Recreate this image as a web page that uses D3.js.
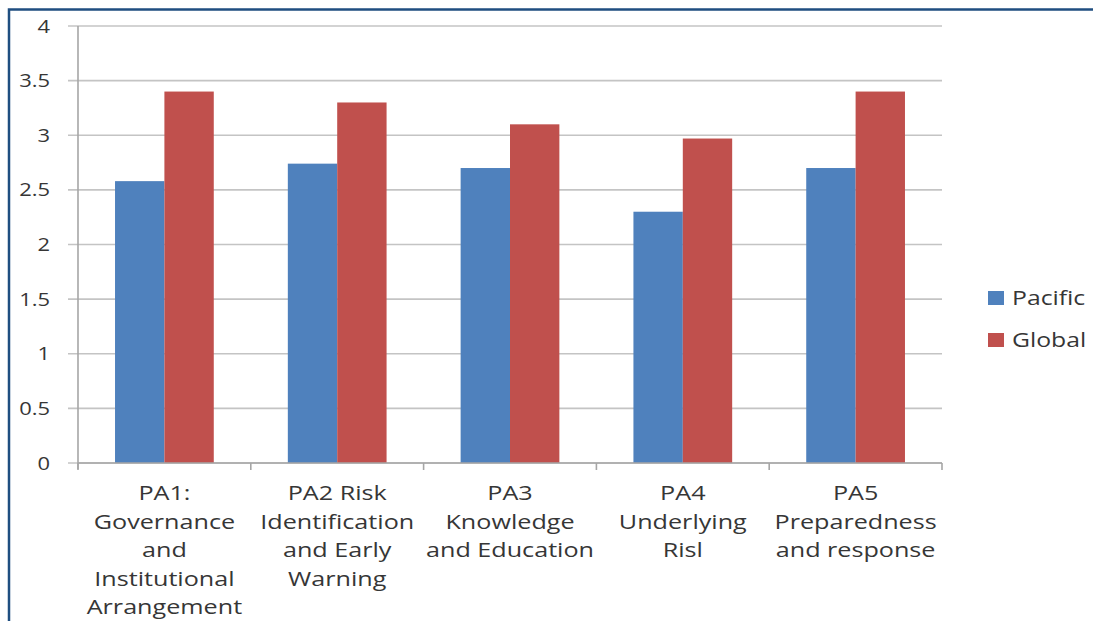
<!DOCTYPE html>
<html>
<head>
<meta charset="utf-8">
<script src="https://cdn.jsdelivr.net/npm/d3@7"></script>
<style>
  html, body { margin: 0; padding: 0; background: #fff; }
  svg { display: block; }
  text { font-family: "Open Sans", sans-serif; fill: #363636; }
</style>
</head>
<body>
<svg id="chart" width="1093" height="621"></svg>
<script>
// Priority-area scores, Pacific vs global average
const categories = [
  ["PA1:", "Governance", "and", "Institutional", "Arrangement"],
  ["PA2 Risk", "Identification", "and Early", "Warning"],
  ["PA3", "Knowledge", "and Education"],
  ["PA4", "Underlying", "Risl"],
  ["PA5", "Preparedness", "and response"]
];
const seriesNames = ["Pacific", "Global"];
const pacific = [2.58, 2.74, 2.70, 2.30, 2.70];
const global = [3.40, 3.30, 3.10, 2.97, 3.40];
const yTicks = [0, 0.5, 1, 1.5, 2, 2.5, 3, 3.5, 4];
const colors = ["#4f81bd", "#c0504d"];

const svg = d3.select("#chart");
const tickStretch = 1.22;   // horizontal text stretch
const catStretch = 1.29;
const legStretch = 1.27;

// frame
svg.append("path")
  .attr("d", "M9,621 V9.5 H1093")
  .attr("fill", "none")
  .attr("stroke", "#1f4e80")
  .attr("stroke-width", 2.5);

const plotLeft = 78, plotRight = 942, plotTop = 26, plotBottom = 463;
const idx = d3.range(categories.length);

const x = d3.scaleBand().domain(idx).range([plotLeft, plotRight]).paddingInner(0).paddingOuter(0);
const barW = x.bandwidth() / 3.5;
const y = d3.scaleLinear().domain([0, 4]).range([plotBottom, plotTop]);

// gridlines + y ticks
svg.append("g").selectAll("line").data(yTicks).join("line")
  .attr("x1", plotLeft - 10).attr("x2", plotRight)
  .attr("y1", d => y(d)).attr("y2", d => y(d))
  .attr("stroke", "#c4c4c4").attr("stroke-width", 1.6);

svg.append("g").selectAll("text").data(yTicks).join("text")
  .attr("transform", d => `translate(50,${y(d) + 6.5}) scale(${tickStretch},1)`)
  .attr("text-anchor", "end")
  .attr("font-size", 18)
  .text(d => d);

// bars
const series = [pacific, global];
series.forEach((vals, s) => {
  svg.append("g").selectAll("rect").data(vals).join("rect")
    .attr("x", (d, i) => x(i) + x.bandwidth() / 2 - barW + s * barW)
    .attr("width", barW)
    .attr("y", d => y(d))
    .attr("height", d => y(0) - y(d))
    .attr("fill", colors[s]);
});

// axis lines
svg.append("line").attr("x1", plotLeft).attr("x2", plotLeft).attr("y1", plotTop).attr("y2", plotBottom + 6)
  .attr("stroke", "#a6a6a6").attr("stroke-width", 1.6);
svg.append("line").attr("x1", plotLeft).attr("x2", plotRight).attr("y1", plotBottom).attr("y2", plotBottom)
  .attr("stroke", "#a6a6a6").attr("stroke-width", 1.6);
svg.append("g").selectAll("line").data(d3.range(categories.length + 1)).join("line")
  .attr("x1", i => plotLeft + i * x.bandwidth()).attr("x2", i => plotLeft + i * x.bandwidth())
  .attr("y1", plotBottom).attr("y2", plotBottom + 7)
  .attr("stroke", "#a6a6a6").attr("stroke-width", 1.6);

// category labels
const catG = svg.append("g").selectAll("g").data(categories).join("g")
  .attr("transform", (d, i) => `translate(${x(i) + x.bandwidth() / 2},0)`);
catG.selectAll("text").data(d => d).join("text")
  .attr("transform", (d, j) => `translate(0,${500 + j * 28.5}) scale(${catStretch},1)`)
  .attr("text-anchor", "middle")
  .attr("font-size", 19.5)
  .text(d => d);

// legend
const leg = svg.append("g").selectAll("g").data(seriesNames).join("g")
  .attr("transform", (d, i) => `translate(988,${291 + i * 42})`);
leg.append("rect").attr("width", 16).attr("height", 14).attr("fill", (d, i) => colors[i]);
leg.append("text")
  .attr("transform", `translate(24,13.5) scale(${legStretch},1)`)
  .attr("font-size", 19.5)
  .text(d => d);
</script>
</body>
</html>
